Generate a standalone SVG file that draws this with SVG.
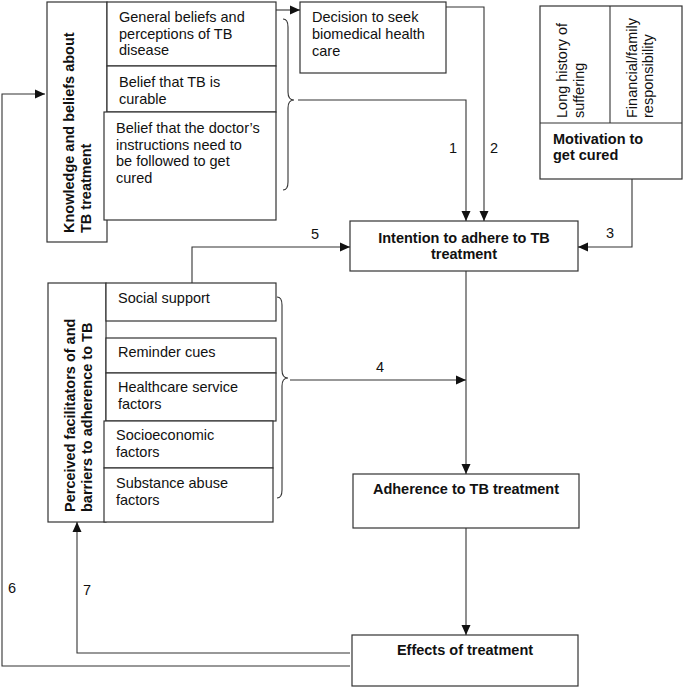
<svg xmlns="http://www.w3.org/2000/svg" width="685" height="688" viewBox="0 0 685 688">
<defs>
<style>
.box{fill:#fff;stroke:#333;stroke-width:1.2}
.ln{fill:none;stroke:#333;stroke-width:1.1}
.t{font-family:"Liberation Sans",Arial,sans-serif;font-size:14.5px;fill:#111}
.b{font-family:"Liberation Sans",Arial,sans-serif;font-size:14.5px;font-weight:bold;fill:#111}
.c{text-anchor:middle}
</style>
<marker id="ah" markerUnits="userSpaceOnUse" markerWidth="10" markerHeight="10" viewBox="0 0 10 10" refX="10" refY="5" orient="auto">
<path d="M0,0.5 L10,5 L0,9.5 Z" fill="#111"/>
</marker>
</defs>
<rect width="685" height="688" fill="#fff"/>

<g id="knowledge">
<rect class="box" x="47" y="2" width="60" height="240"/>
<text class="b" transform="translate(74,233) rotate(-90)">Knowledge and beliefs about</text>
<text class="b" transform="translate(91,233) rotate(-90)">TB treatment</text>
</g>
<g id="general-beliefs">
<rect class="box" x="107" y="2" width="169" height="64"/>
<text class="t" x="119" y="22">General beliefs and</text>
<text class="t" x="119" y="38.5">perceptions of TB</text>
<text class="t" x="119" y="55">disease</text>
</g>
<g id="curable">
<rect class="box" x="107" y="66" width="169" height="46"/>
<text class="t" x="119" y="87">Belief that TB is</text>
<text class="t" x="119" y="103.5">curable</text>
</g>
<g id="doctor">
<rect class="box" x="104" y="112" width="172" height="108"/>
<text class="t" x="116" y="133">Belief that the doctor’s</text>
<text class="t" x="116" y="149.5">instructions need to</text>
<text class="t" x="116" y="166">be followed to get</text>
<text class="t" x="116" y="182.5">cured</text>
</g>
<g id="decision">
<rect class="box" x="300" y="2" width="146" height="71"/>
<text class="t" x="312" y="22">Decision to seek</text>
<text class="t" x="312" y="39">biomedical health</text>
<text class="t" x="312" y="56">care</text>
</g>
<g id="motivation">
<rect class="box" x="540" y="6" width="142" height="173"/>
<line class="ln" x1="540" y1="123" x2="682" y2="123"/>
<line class="ln" x1="610" y1="6" x2="610" y2="123"/>
<text class="t" transform="translate(567,118) rotate(-90)">Long history of</text>
<text class="t" transform="translate(584,118) rotate(-90)">suffering</text>
<text class="t" transform="translate(637,118) rotate(-90)">Financial/family</text>
<text class="t" transform="translate(653,118) rotate(-90)">responsibility</text>
<text class="b" x="553" y="144">Motivation to</text>
<text class="b" x="553" y="160">get cured</text>
</g>
<g id="intention">
<rect class="box" x="350" y="221" width="228" height="50"/>
<text class="b c" x="464" y="243">Intention to adhere to TB</text>
<text class="b c" x="464" y="259">treatment</text>
</g>
<g id="facilitators">
<rect class="box" x="48" y="283" width="58" height="239"/>
<text class="b" transform="translate(75,512) rotate(-90)">Perceived facilitators of and</text>
<text class="b" transform="translate(92,512) rotate(-90)">barriers to adherence to TB</text>
</g>
<g id="social-support">
<rect class="box" x="106" y="283" width="170" height="38"/>
<text class="t" x="118" y="303">Social support</text>
</g>
<g id="reminder-cues">
<rect class="box" x="106" y="338" width="170" height="35"/>
<text class="t" x="118" y="357">Reminder cues</text>
</g>
<g id="healthcare">
<rect class="box" x="106" y="373" width="170" height="48"/>
<text class="t" x="118" y="392">Healthcare service</text>
<text class="t" x="118" y="408.5">factors</text>
</g>
<g id="socioeconomic">
<rect class="box" x="104" y="421" width="169" height="47"/>
<text class="t" x="116" y="440">Socioeconomic</text>
<text class="t" x="116" y="456.5">factors</text>
</g>
<g id="substance">
<rect class="box" x="104" y="468" width="169" height="54"/>
<text class="t" x="116" y="488">Substance abuse</text>
<text class="t" x="116" y="504.5">factors</text>
</g>
<g id="adherence">
<rect class="box" x="353" y="474" width="226" height="54"/>
<text class="b c" x="466" y="494">Adherence to TB treatment</text>
</g>
<g id="effects">
<rect class="box" x="352" y="635" width="226" height="51"/>
<text class="b c" x="465" y="655">Effects of treatment</text>
</g>

<g id="connectors">
<path class="ln" d="M283,19 Q288,19 288,27 L288,92 Q288,100 294,100 Q288,100 288,108 L288,182 Q288,190 283,190"/>
<path class="ln" d="M277,297 Q282,297 282,305 L282,370 Q282,378 288,378 Q282,378 282,386 L282,490 Q282,498 277,498"/>
<path class="ln" d="M276,10 L300,10" marker-end="url(#ah)"/>
<path class="ln" d="M298,100 L466,100 L466,221" marker-end="url(#ah)"/>
<path class="ln" d="M446,7 L484,7 L484,221" marker-end="url(#ah)"/>
<path class="ln" d="M632,179 L632,247 L578,247" marker-end="url(#ah)"/>
<path class="ln" d="M192,283 L192,247 L350,247" marker-end="url(#ah)"/>
<path class="ln" d="M290,380 L466,380" marker-end="url(#ah)"/>
<path class="ln" d="M466,271 L466,474" marker-end="url(#ah)"/>
<path class="ln" d="M466,528 L466,635" marker-end="url(#ah)"/>
<path class="ln" d="M350,653 L77,653 L77,522" marker-end="url(#ah)"/>
<path class="ln" d="M350,666 L2,666 L2,94 L45,94" marker-end="url(#ah)"/>
<text class="t" x="449" y="153">1</text>
<text class="t" x="490" y="153">2</text>
<text class="t" x="606" y="238">3</text>
<text class="t" x="376" y="372">4</text>
<text class="t" x="311" y="239">5</text>
<text class="t" x="8" y="593">6</text>
<text class="t" x="83" y="595">7</text>
</g>
</svg>
